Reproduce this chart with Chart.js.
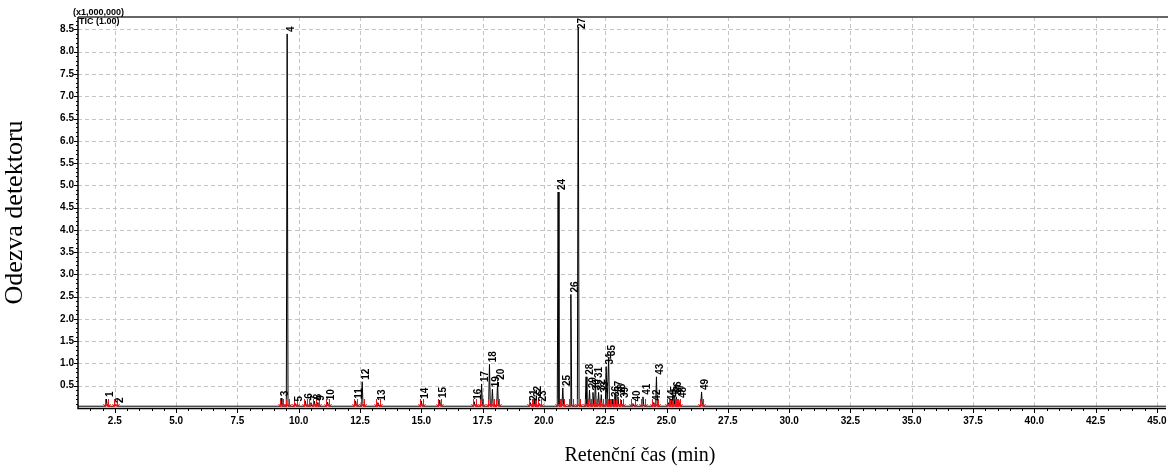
<!DOCTYPE html>
<html>
<head>
<meta charset="utf-8">
<script src="https://cdn.jsdelivr.net/npm/chart.js@4.4.0/dist/chart.umd.min.js"></script>
<style>
  html, body { margin: 0; padding: 0; background: #fff; }
  #wrap { width: 1168px; height: 470px; position: relative; }
</style>
</head>
<body>
<div id="wrap"><canvas id="chart"></canvas></div>
<script>
// Peak retention times (min) and heights (x1,000,000), peaks numbered 1..49
const peakTimes = [2.16, 2.54, 9.28, 9.53, 9.86, 10.27, 10.50, 10.64, 10.75, 11.18,
    12.32, 12.59, 13.23, 15.00, 15.75, 17.16, 17.46, 17.78, 17.90, 18.11,
    19.45, 19.60, 19.81, 20.58, 20.77, 21.10, 21.40, 21.72, 21.86, 22.00,
    22.10, 22.23, 22.34, 22.54, 22.64, 22.78, 22.90, 23.02, 23.15, 23.63,
    24.04, 24.45, 24.59, 25.07, 25.18, 25.30, 25.40, 25.50, 26.43];
const peakHeights = [0.20, 0.07, 0.22, 8.40, 0.10, 0.16, 0.12, 0.15, 0.12, 0.13,
    0.16, 0.59, 0.12, 0.16, 0.18, 0.14, 0.54, 0.98, 0.42, 0.59,
    0.12, 0.20, 0.10, 4.85, 0.45, 2.55, 8.54, 0.70, 0.40, 0.35,
    0.63, 0.35, 0.30, 0.93, 1.12, 0.20, 0.32, 0.25, 0.18, 0.10,
    0.25, 0.12, 0.70, 0.12, 0.20, 0.30, 0.25, 0.18, 0.36];
const baseLevel = 0.04;

const xTicks = [2.5, 5.0, 7.5, 10.0, 12.5, 15.0, 17.5, 20.0, 22.5, 25.0, 27.5, 30.0,
    32.5, 35.0, 37.5, 40.0, 42.5, 45.0];
const yTicks = [0.5, 1.0, 1.5, 2.0, 2.5, 3.0, 3.5, 4.0, 4.5, 5.0, 5.5, 6.0, 6.5, 7.0,
    7.5, 8.0, 8.5];
const xMin = 1.0, xMax = 45.37, yMin = 0, yMax = 8.78;

// trace: each peak as a narrow spike on the baseline
const halfW = 0.035;
const trace = [{ x: xMin, y: baseLevel }];
peakTimes.forEach((t, i) => {
    trace.push({ x: t - halfW, y: baseLevel }, { x: t, y: peakHeights[i] }, { x: t + halfW, y: baseLevel });
});
trace.push({ x: xMax, y: baseLevel });

const tickFont = { family: 'Liberation Sans', weight: 'bold', size: 10 };

const gridPlugin = {
    id: 'gridPlugin',
    beforeDatasetsDraw(chart) {
        const { ctx, chartArea: a, scales: { x, y } } = chart;
        ctx.save();
        ctx.strokeStyle = '#c4c4c4';
        ctx.lineWidth = 1;
        ctx.setLineDash([4, 3]);
        xTicks.forEach(v => {
            const px = Math.round(x.getPixelForValue(v)) + 0.5;
            ctx.beginPath(); ctx.moveTo(px, a.top); ctx.lineTo(px, a.bottom); ctx.stroke();
        });
        yTicks.forEach(v => {
            const py = Math.round(y.getPixelForValue(v)) + 0.5;
            ctx.beginPath(); ctx.moveTo(a.left, py); ctx.lineTo(a.right, py); ctx.stroke();
        });
        ctx.restore();
    },
    afterDatasetsDraw(chart) {
        const { ctx, chartArea: a, scales: { x, y } } = chart;
        ctx.save();
        // red peak start/end markers
        ctx.strokeStyle = '#e8161b';
        ctx.lineWidth = 1;
        peakTimes.forEach(t => {
            [t - 0.06, t + 0.07].forEach(v => {
                const px = Math.round(x.getPixelForValue(v)) + 0.5;
                ctx.beginPath();
                ctx.moveTo(px, a.bottom - 9); ctx.lineTo(px, a.bottom - 1);
                ctx.moveTo(px - 2, a.bottom - 4); ctx.lineTo(px, a.bottom - 1); ctx.lineTo(px + 2, a.bottom - 4);
                ctx.stroke();
            });
        });
        // peak number labels
        ctx.fillStyle = '#000';
        ctx.font = 'bold 10px "Liberation Sans"';
        ctx.textAlign = 'left';
        ctx.textBaseline = 'middle';
        peakTimes.forEach((t, i) => {
            const label = String(i + 1);
            const w = ctx.measureText(label).width;
            const px = x.getPixelForValue(t) + 4;
            let py = y.getPixelForValue(peakHeights[i]) - 2;
            py = Math.max(py, a.top + w + 1);
            ctx.save();
            ctx.translate(px, py);
            ctx.rotate(-Math.PI / 2);
            ctx.fillText(label, 0, 0);
            ctx.restore();
        });
        // top frame line
        ctx.strokeStyle = '#666';
        ctx.lineWidth = 2;
        ctx.beginPath(); ctx.moveTo(a.left, a.top); ctx.lineTo(chart.width, a.top); ctx.stroke();
        // axes
        ctx.strokeStyle = '#000';
        ctx.lineWidth = 1.5;
        ctx.beginPath();
        ctx.moveTo(a.left, a.top); ctx.lineTo(a.left, a.bottom + 0.5); ctx.lineTo(a.right, a.bottom + 0.5);
        ctx.stroke();
        // tick marks
        ctx.lineWidth = 1;
        for (let v = 0.1; v <= yMax; v += 0.1) {
            const py = Math.round(y.getPixelForValue(v)) + 0.5;
            const major = yTicks.some(t => Math.abs(t - v) < 1e-6);
            ctx.beginPath(); ctx.moveTo(a.left - (major ? 4 : 2), py); ctx.lineTo(a.left, py); ctx.stroke();
        }
        for (let v = 1.5; v <= xMax; v += 0.5) {
            const px = Math.round(x.getPixelForValue(v)) + 0.5;
            const major = xTicks.some(t => Math.abs(t - v) < 1e-6);
            ctx.beginPath(); ctx.moveTo(px, a.bottom); ctx.lineTo(px, a.bottom + (major ? 5 : 3)); ctx.stroke();
        }
        // scale captions
        ctx.font = 'bold 9px "Liberation Sans"';
        ctx.textAlign = 'left';
        ctx.fillText('(x1,000,000)', a.left - 5, 13);
        ctx.fillText('TIC (1.00)', a.left + 1, 22);
        // axis titles
        ctx.font = '20px "Liberation Serif"';
        ctx.textAlign = 'center';
        ctx.fillText('Retenční čas (min)', 640, 456);
        ctx.save();
        ctx.font = '26px "Liberation Serif"';
        ctx.translate(15, (a.top + a.bottom) / 2);
        ctx.rotate(-Math.PI / 2);
        ctx.fillText('Odezva detektoru', 0, 0);
        ctx.restore();
        ctx.restore();
    }
};

new Chart(document.getElementById('chart'), {
    type: 'line',
    data: {
        datasets: [{
            data: trace,
            borderColor: '#000',
            borderWidth: 1,
            pointRadius: 0,
            tension: 0,
            fill: false
        }]
    },
    options: {
        responsive: true,
        maintainAspectRatio: false,
        animation: false,
        layout: { padding: { top: 17, right: 2, left: 0, bottom: 0 } },
        plugins: { legend: { display: false }, tooltip: { enabled: false } },
        scales: {
            x: {
                type: 'linear',
                min: xMin,
                max: xMax,
                grid: { display: false, drawTicks: false },
                border: { display: false },
                afterBuildTicks: s => { s.ticks = xTicks.map(v => ({ value: v })); },
                afterFit: s => { s.height = 62; s.paddingLeft = 0; s.paddingRight = 0; },
                ticks: {
                    font: tickFont, color: '#000', padding: 7,
                    maxRotation: 0, autoSkip: false,
                    callback: v => Number(v).toFixed(1)
                }
            },
            y: {
                min: yMin,
                max: yMax,
                grid: { display: false, drawTicks: false },
                border: { display: false },
                afterBuildTicks: s => { s.ticks = yTicks.map(v => ({ value: v })); },
                afterFit: s => { s.width = 78; s.paddingTop = 0; s.paddingBottom = 0; },
                ticks: {
                    font: tickFont, color: '#000', padding: 4,
                    autoSkip: false,
                    callback: v => Number(v).toFixed(1)
                }
            }
        }
    },
    plugins: [gridPlugin]
});
</script>
</body>
</html>
